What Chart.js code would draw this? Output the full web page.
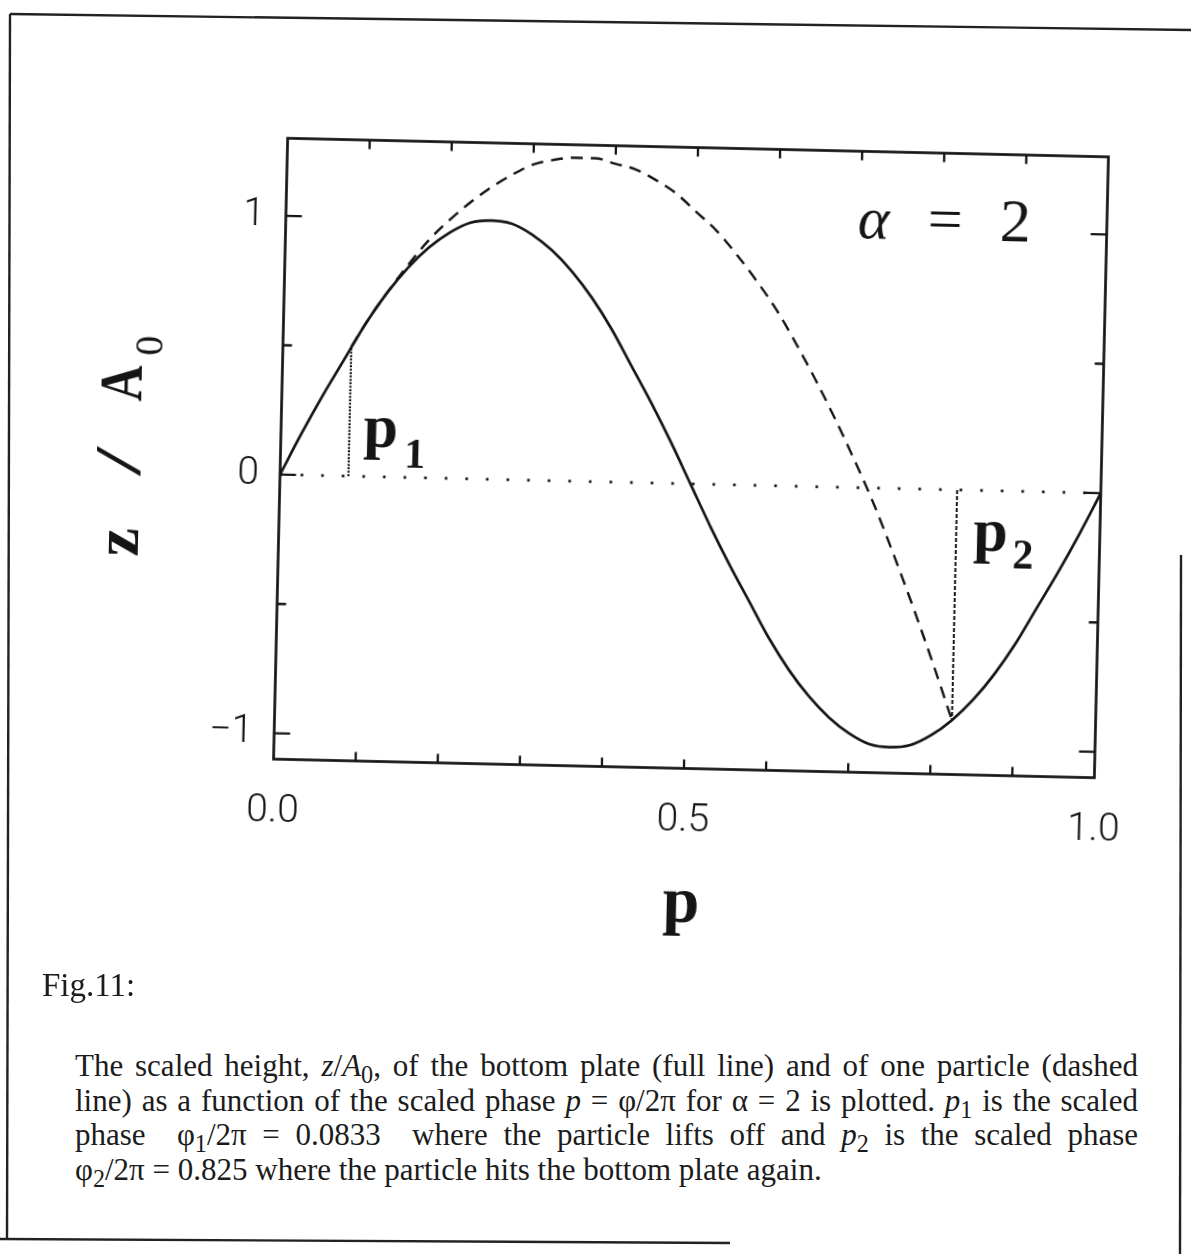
<!DOCTYPE html>
<html>
<head>
<meta charset="utf-8">
<title>Fig.11</title>
<script src="https://cdn.jsdelivr.net/npm/chart.js@4.4.1/dist/chart.umd.min.js"></script>
<style>
    body {
        margin: 0;
        width: 1191px;
        height: 1254px;
        background: #fff;
        position: relative;
        overflow: hidden;
    }
    #border { position: absolute; left: 0; top: 0; }
    /* the pasted plot sits slightly skewed on the page */
    #fig {
        position: absolute;
        left: 0;
        top: 0;
        width: 1191px;
        height: 1000px;
        transform-origin: 691px 458px;
        transform: rotate(1.3deg);
    }
    .caption {
        position: absolute;
        font-family: 'Liberation Serif', 'Times New Roman', serif;
        font-size: 31px;
        line-height: 34.5px;
        color: #1c1c1c;
    }
    #figNo { left: 42px; top: 968px; font-size: 33px; }
    #figText { left: 75px; top: 1049px; width: 1063px; }
    #figText div { text-align: justify; text-align-last: justify; white-space: nowrap; }
    #figText div.last { text-align-last: left; }
    #figText sub { font-size: 0.78em; line-height: 0; vertical-align: -0.3em; }
</style>
</head>
<body>
<svg id="border" width="1191" height="1254">
    <g stroke="#222" stroke-width="2.4" fill="none">
        <line x1="10" y1="14" x2="1191" y2="30"/>
        <line x1="10" y1="14" x2="7" y2="1240"/>
        <line x1="0" y1="1239" x2="730" y2="1243"/>
        <line x1="1181" y1="555" x2="1180" y2="1254"/>
    </g>
</svg>
<div id="fig"><canvas id="chart1" width="1191" height="1000"></canvas></div>
<div class="caption" id="figNo">Fig.11:</div>
<div class="caption" id="figText">
    <div>The scaled height, <i>z</i>/<i>A</i><sub>0</sub>, of the bottom plate (full line) and of one particle (dashed</div>
    <div>line) as a function of the scaled phase <i>p</i> = φ/2π for α = 2 is plotted. <i>p</i><sub>1</sub> is the scaled</div>
    <div>phase&nbsp; φ<sub>1</sub>/2π = 0.0833&nbsp; where the particle lifts off and <i>p</i><sub>2</sub> is the scaled phase</div>
    <div class="last">φ<sub>2</sub>/2π = 0.825 where the particle hits the bottom plate again.</div>
</div>
<script>
// bottom plate, z/A0 against p
const platePhase = [0, 0.025, 0.05, 0.075, 0.1, 0.125, 0.15, 0.175, 0.2, 0.225, 0.25,
    0.275, 0.3, 0.325, 0.35, 0.375, 0.4, 0.425, 0.45, 0.475, 0.5,
    0.525, 0.55, 0.575, 0.6, 0.625, 0.65, 0.675, 0.7, 0.725, 0.75,
    0.775, 0.8, 0.825, 0.85, 0.875, 0.9, 0.925, 0.95, 0.975, 1.0];
const plateHeight = [0, 0.16, 0.31, 0.45, 0.59, 0.71, 0.81, 0.89, 0.95, 0.99, 1.00,
    0.99, 0.95, 0.89, 0.81, 0.71, 0.59, 0.45, 0.31, 0.16, 0,
    -0.16, -0.31, -0.45, -0.59, -0.71, -0.81, -0.89, -0.95, -0.99, -1.00,
    -0.99, -0.95, -0.89, -0.81, -0.71, -0.59, -0.45, -0.31, -0.16, 0];

// particle in flight, from lift-off (p1) to impact (p2)
const particlePhase = [0.0833, 0.1, 0.125, 0.15, 0.175, 0.2, 0.225, 0.25, 0.275, 0.3,
    0.325, 0.35, 0.375, 0.4, 0.425, 0.45, 0.475, 0.5, 0.525, 0.55,
    0.575, 0.6, 0.625, 0.65, 0.675, 0.7, 0.725, 0.75, 0.775, 0.8, 0.825];
const particleHeight = [0.50, 0.59, 0.71, 0.82, 0.92, 1.00, 1.07, 1.13, 1.18, 1.22,
    1.24, 1.25, 1.25, 1.23, 1.21, 1.17, 1.12, 1.05, 0.98, 0.89,
    0.79, 0.68, 0.55, 0.41, 0.26, 0.10, -0.07, -0.26, -0.46, -0.67, -0.89];

// zero level and the two marker lines
const zeroPhase = [0, 1];
const zeroHeight = [0, 0];
const p1Phase = [0.0833, 0.0833];
const p1Height = [0, 0.50];
const p2Phase = [0.825, 0.825];
const p2Height = [0, -0.89];

// axes
const xTickValues = [0, 0.5, 1.0];
const xTickLabels = ['0.0', '0.5', '1.0'];
const yTickValues = [-1, 0, 1];
const yTickLabels = ['\u22121', '0', '1'];
const xTickMarks = [0.1, 0.2, 0.3, 0.4, 0.5, 0.6, 0.7, 0.8, 0.9];
const yTickMarks = [-1, -0.5, 0, 0.5, 1];

const ink = '#151515';
const toPoints = (xs, ys) => xs.map((x, i) => ({ x: x, y: ys[i] }));

// frame with inward ticks, axis titles and the in-plot labels
const plotDecor = {
    id: 'plotDecor',
    afterDraw(chart) {
        const { ctx, chartArea: a, scales: { x, y } } = chart;
        ctx.save();
        ctx.strokeStyle = ink;
        ctx.fillStyle = ink;
        ctx.lineWidth = 2.7;
        ctx.strokeRect(a.left, a.top, a.width, a.height);

        ctx.lineWidth = 2.3;
        ctx.beginPath();
        xTickMarks.forEach(v => {
            const px = x.getPixelForValue(v);
            ctx.moveTo(px, a.bottom); ctx.lineTo(px, a.bottom - 9);
            ctx.moveTo(px, a.top); ctx.lineTo(px, a.top + 9);
        });
        yTickMarks.forEach(v => {
            const py = y.getPixelForValue(v);
            const len = Number.isInteger(v) ? 16 : 9;
            ctx.moveTo(a.left, py); ctx.lineTo(a.left + len, py);
            ctx.moveTo(a.right, py); ctx.lineTo(a.right - len, py);
        });
        ctx.stroke();

        const serif = "'Liberation Serif', 'Times New Roman', serif";
        ctx.textBaseline = 'alphabetic';

        // y title: z / A0
        ctx.save();
        ctx.translate(a.left - 140.5, (a.top + a.bottom) / 2);
        ctx.rotate(-Math.PI / 2);
        ctx.textAlign = 'center';
        ctx.font = 'bold 64px ' + serif;
        ctx.fillText('z', -97, 0);
        ctx.save();
        ctx.scale(1.6, 1);
        ctx.font = '66px ' + serif;
        ctx.fillText('/', -16 / 1.6, 0);
        ctx.restore();
        ctx.font = 'bold 62px ' + serif;
        ctx.save();
        ctx.scale(0.8, 1);
        ctx.fillText('A', 62 / 0.8, 0);
        ctx.restore();
        ctx.font = '40px ' + serif;
        ctx.fillText('0', 100, 20);
        ctx.restore();

        // x title
        ctx.textAlign = 'center';
        ctx.font = 'bold 66px ' + serif;
        ctx.fillText('p', x.getPixelForValue(0.5), a.bottom + 153);

        // alpha = 2
        const base = y.getPixelForValue(0.964);
        ctx.font = 'italic 60px ' + serif;
        ctx.fillText('\u03b1', x.getPixelForValue(0.716), base);
        ctx.font = '62px ' + serif;
        ctx.fillText('=', x.getPixelForValue(0.803), base);
        ctx.fillText('2', x.getPixelForValue(0.8885), base);

        // p1, p2
        ctx.textAlign = 'left';
        ctx.font = 'bold 62px ' + serif;
        ctx.fillText('p', x.getPixelForValue(0.1004), y.getPixelForValue(0.114));
        ctx.fillText('p', x.getPixelForValue(0.846), y.getPixelForValue(-0.231));
        ctx.font = 'bold 42px ' + serif;
        ctx.fillText('1', x.getPixelForValue(0.1507), y.getPixelForValue(0.040));
        ctx.fillText('2', x.getPixelForValue(0.894), y.getPixelForValue(-0.297));
        ctx.restore();
    }
};

const tickFont = { family: 'Roboto', weight: '300', size: 39 };

const chart1 = new Chart(document.querySelector('#chart1'), {
    type: 'scatter',
    data: {
        datasets: [
            {
                data: toPoints(platePhase, plateHeight),
                borderColor: ink,
                borderWidth: 2.7,
                cubicInterpolationMode: 'monotone',
            },
            {
                data: toPoints(particlePhase, particleHeight),
                borderColor: ink,
                borderWidth: 2.4,
                borderDash: [12, 8],
                cubicInterpolationMode: 'monotone',
            },
            {
                data: toPoints(zeroPhase, zeroHeight),
                borderColor: ink,
                borderWidth: 2.7,
                borderDash: [2.6, 18],
            },
            {
                data: toPoints(p1Phase, p1Height),
                borderColor: ink,
                borderWidth: 2.2,
                borderDash: [2, 1.4],
            },
            {
                data: toPoints(p2Phase, p2Height),
                borderColor: ink,
                borderWidth: 2,
                borderDash: [4, 2],
            }
        ]
    },
    options: {
        responsive: false,
        animation: false,
        showLine: true,
        elements: { point: { radius: 0, hoverRadius: 0 } },
        layout: { padding: { left: 0, top: 147.5, right: 89.5, bottom: 0 } },
        scales: {
            x: {
                type: 'linear',
                min: 0,
                max: 1,
                afterBuildTicks: (scale) => { scale.ticks = xTickValues.map(v => ({ value: v })); },
                afterFit: (scale) => { scale.height = 231.5; },
                grid: { display: false, drawTicks: false },
                border: { display: false },
                ticks: {
                    color: ink,
                    font: tickFont,
                    padding: 29,
                    maxRotation: 0,
                    autoSkip: false,
                    callback: (value) => xTickLabels[xTickValues.indexOf(value)],
                }
            },
            y: {
                type: 'linear',
                min: -1.1,
                max: 1.3,
                afterBuildTicks: (scale) => { scale.ticks = yTickValues.map(v => ({ value: v })); },
                afterFit: (scale) => { scale.width = 280.5; },
                grid: { display: false, drawTicks: false },
                border: { display: false },
                ticks: {
                    color: ink,
                    font: tickFont,
                    padding: 21,
                    callback: (value) => yTickLabels[yTickValues.indexOf(value)],
                }
            }
        },
        plugins: {
            legend: { display: false },
            tooltip: { enabled: false },
        }
    },
    plugins: [plotDecor],
});
</script>
</body>
</html>
